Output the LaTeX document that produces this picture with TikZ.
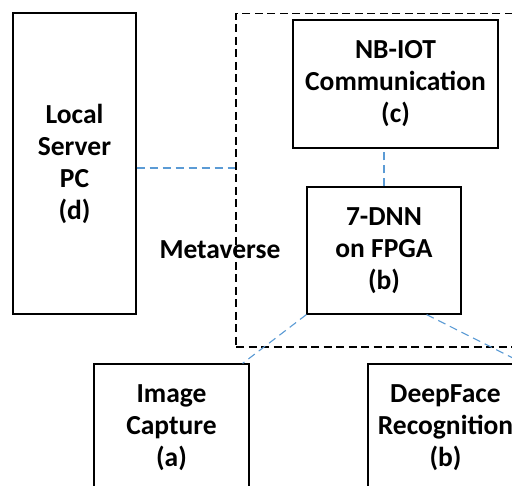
\documentclass[tikz,border=0pt]{standalone}
\usepackage{fontspec}
\setmainfont{Carlito}
\usetikzlibrary{calc}
\definecolor{linkblue}{RGB}{91,155,213}
\tikzstyle{block} = [draw, line width=1.2pt, align=center, inner sep=0pt, font=\bfseries\fontsize{27.5}{32}\selectfont]
\tikzstyle{region} = [draw, line width=1.2pt, dash pattern=on 8pt off 4.5pt, inner sep=0pt]
\tikzstyle{link} = [linkblue, line width=1.1pt, dash pattern=on 8pt off 5pt]

\begin{document}
\begin{tikzpicture}[x=1pt,y=-1pt]
\clip (0,0) rectangle (512,486);
\fill[white] (0,0) rectangle (512,486);
% metaverse region
\node[region, minimum width=309pt, minimum height=333.5pt] (meta) at (390.5,180.25) {};
\node[font=\bfseries\fontsize{27.5}{32}\selectfont] (mlabel) at (220,250) {Metaverse};
% blocks
\node[block, minimum width=123pt, minimum height=301pt] (srv) at (74.5,163.5) {Local\\Server\\PC\\(d)};
\node[block, minimum width=205pt, minimum height=128pt] (iot) at (395.5,84) {NB-IOT\\Communication\\(c)};
\node[block, minimum width=154pt, minimum height=127pt] (dnn) at (384,250.5) {7-DNN\\on FPGA\\(b)};
\node[block, minimum width=155pt, minimum height=128pt] (cap) at (171.5,428) {Image\\Capture\\(a)};
\node[block, minimum width=155pt, minimum height=128pt] (face) at (445.5,428) {DeepFace\\Recognition\\(b)};
% links
\coordinate (s1) at ($(srv.east)+(0,4.5)$);
\draw[link] (s1) -- (s1 -| meta.west);
\draw[link] (dnn.north) -- (dnn.north |- iot.south);
\coordinate (c1) at ($(cap.north east)+(-7,0)$);
\draw[link] (dnn.south west) -- (c1);
\coordinate (d1) at ($(dnn.south east)+(-35,0)$);
\draw[link] (d1) -- (face.north east);
\end{tikzpicture}
\end{document}
